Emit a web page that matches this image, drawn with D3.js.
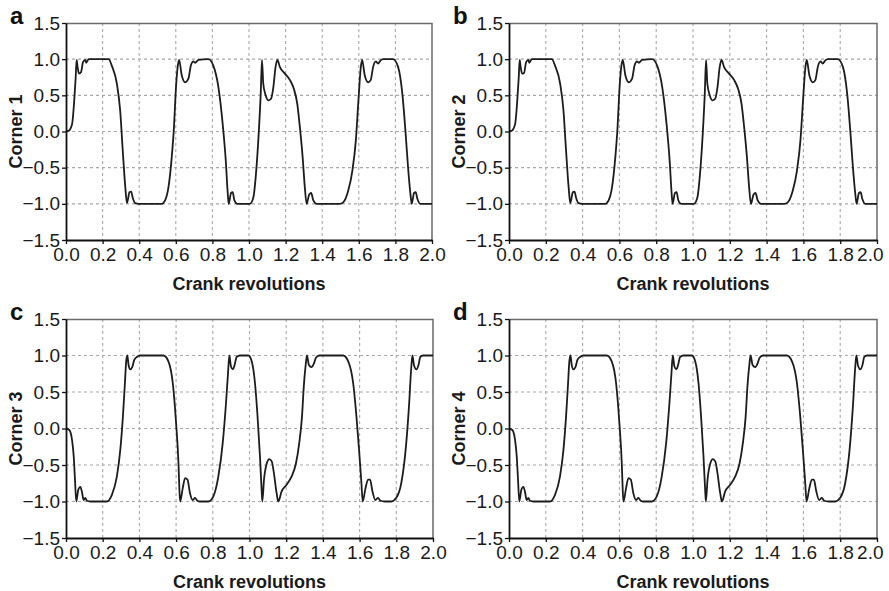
<!DOCTYPE html>
<html>
<head>
<meta charset="utf-8">
<script src="https://cdn.jsdelivr.net/npm/d3@7"></script>
<style>
  html, body { margin: 0; padding: 0; background: #fff; }
  svg { display: block; }
</style>
</head>
<body>
<svg id="chart" width="889" height="591"></svg>
<script>
// ---- data ----
const xTicks = [0.0, 0.2, 0.4, 0.6, 0.8, 1.0, 1.2, 1.4, 1.6, 1.8, 2.0];
const yTicks = [-1.5, -1.0, -0.5, 0.0, 0.5, 1.0, 1.5];
const panelLetters = ["a", "b", "c", "d"];
const panelLabels = ["Corner 1", "Corner 2", "Corner 3", "Corner 4"];
const xTitle = "Crank revolutions";

const corner1 = [[0,0],[0.015,0.01],[0.033,0.1],[0.045,0.43],[0.053,0.75],[0.058,0.99],[0.064,0.88],[0.071,0.8],[0.082,0.82],[0.093,0.96],[0.105,0.99],[0.11,0.95],[0.124,1.0],[0.233,1.0],[0.25,0.91],[0.278,0.66],[0.296,0.29],[0.31,-0.26],[0.324,-0.77],[0.333,-0.99],[0.347,-0.84],[0.356,-0.83],[0.365,-0.92],[0.378,-0.99],[0.396,-1.0],[0.524,-1.0],[0.542,-0.95],[0.56,-0.77],[0.578,-0.35],[0.59,0.06],[0.6,0.57],[0.61,0.89],[0.618,0.99],[0.633,0.77],[0.651,0.68],[0.669,0.73],[0.682,0.91],[0.696,0.97],[0.705,0.95],[0.724,0.99],[0.778,1.0],[0.805,0.91],[0.833,0.61],[0.856,0.11],[0.873,-0.4],[0.884,-0.86],[0.889,-1.0],[0.902,-0.85],[0.911,-0.84],[0.92,-0.95],[0.936,-1.0],[1.005,-1.0],[1.024,-0.91],[1.038,-0.59],[1.053,-0.03],[1.064,0.52],[1.071,0.99],[1.078,0.66],[1.091,0.5],[1.105,0.43],[1.12,0.45],[1.133,0.61],[1.145,0.89],[1.155,0.99],[1.169,0.89],[1.196,0.8],[1.224,0.71],[1.245,0.59],[1.264,0.38],[1.278,0.06],[1.293,-0.35],[1.305,-0.77],[1.315,-1.0],[1.329,-0.87],[1.34,-0.85],[1.351,-0.95],[1.369,-1.0],[1.496,-1.0],[1.515,-0.98],[1.542,-0.82],[1.565,-0.54],[1.584,-0.12],[1.598,0.43],[1.611,0.89],[1.618,0.99],[1.633,0.77],[1.651,0.68],[1.665,0.71],[1.678,0.89],[1.693,0.97],[1.705,0.94],[1.718,0.98],[1.733,1.0],[1.787,1.0],[1.815,0.89],[1.838,0.52],[1.856,-0.03],[1.869,-0.49],[1.882,-0.86],[1.889,-1.0],[1.902,-0.85],[1.911,-0.84],[1.92,-0.93],[1.936,-1.0],[2.0,-1.0]];

const corner2 = [[0,0],[0.015,0.01],[0.033,0.1],[0.045,0.43],[0.053,0.75],[0.058,0.99],[0.064,0.88],[0.071,0.8],[0.082,0.81],[0.093,0.96],[0.105,0.99],[0.11,0.95],[0.124,1.0],[0.233,1.0],[0.25,0.91],[0.278,0.66],[0.296,0.29],[0.31,-0.26],[0.324,-0.77],[0.333,-0.99],[0.347,-0.84],[0.356,-0.83],[0.365,-0.92],[0.378,-0.99],[0.396,-1.0],[0.524,-1.0],[0.542,-0.95],[0.56,-0.77],[0.578,-0.35],[0.59,0.06],[0.6,0.57],[0.61,0.89],[0.618,0.99],[0.633,0.77],[0.651,0.68],[0.669,0.73],[0.682,0.91],[0.696,0.97],[0.705,0.95],[0.724,0.99],[0.778,1.0],[0.805,0.91],[0.833,0.61],[0.856,0.11],[0.873,-0.4],[0.884,-0.86],[0.889,-1.0],[0.902,-0.85],[0.911,-0.84],[0.92,-0.95],[0.936,-1.0],[1.005,-1.0],[1.024,-0.91],[1.038,-0.59],[1.053,-0.03],[1.064,0.52],[1.071,0.99],[1.078,0.66],[1.091,0.5],[1.105,0.43],[1.12,0.45],[1.133,0.61],[1.145,0.89],[1.155,0.99],[1.169,0.89],[1.196,0.8],[1.224,0.71],[1.245,0.59],[1.264,0.38],[1.278,0.06],[1.293,-0.35],[1.305,-0.77],[1.315,-1.0],[1.329,-0.87],[1.34,-0.85],[1.351,-0.95],[1.369,-1.0],[1.496,-1.0],[1.515,-0.98],[1.542,-0.82],[1.565,-0.54],[1.584,-0.12],[1.598,0.43],[1.611,0.89],[1.618,0.99],[1.633,0.77],[1.651,0.68],[1.665,0.71],[1.678,0.89],[1.693,0.97],[1.705,0.94],[1.718,0.98],[1.733,1.0],[1.787,1.0],[1.815,0.89],[1.838,0.52],[1.856,-0.03],[1.869,-0.49],[1.882,-0.86],[1.889,-1.0],[1.902,-0.85],[1.911,-0.84],[1.92,-0.93],[1.936,-1.0],[2.0,-1.0]];

const corner3 = [[0,0],[0.018,-0.02],[0.033,-0.16],[0.042,-0.38],[0.049,-0.7],[0.056,-1.0],[0.067,-0.84],[0.078,-0.8],[0.087,-0.87],[0.096,-0.98],[0.105,-0.95],[0.114,-0.99],[0.132,-1.0],[0.223,-1.0],[0.25,-0.91],[0.277,-0.66],[0.296,-0.29],[0.31,0.16],[0.321,0.62],[0.328,0.92],[0.334,1.0],[0.341,0.87],[0.35,0.81],[0.361,0.84],[0.372,0.94],[0.386,0.98],[0.404,1.0],[0.531,1.0],[0.558,0.92],[0.582,0.62],[0.6,0.07],[0.613,-0.48],[0.618,-0.84],[0.622,-1.0],[0.636,-0.82],[0.649,-0.68],[0.662,-0.7],[0.676,-0.89],[0.691,-0.98],[0.703,-0.95],[0.716,-0.99],[0.73,-1.0],[0.776,-1.0],[0.803,-0.93],[0.83,-0.66],[0.854,-0.2],[0.872,0.35],[0.883,0.76],[0.89,1.0],[0.899,0.85],[0.91,0.81],[0.919,0.87],[0.93,0.98],[0.948,1.0],[0.994,1.0],[1.012,0.92],[1.03,0.62],[1.044,0.16],[1.057,-0.38],[1.066,-0.84],[1.07,-1.0],[1.079,-0.7],[1.094,-0.48],[1.108,-0.42],[1.121,-0.45],[1.133,-0.61],[1.148,-0.89],[1.157,-1.0],[1.175,-0.86],[1.202,-0.77],[1.229,-0.66],[1.253,-0.48],[1.271,-0.2],[1.286,0.16],[1.296,0.58],[1.307,0.89],[1.313,1.0],[1.324,0.87],[1.338,0.84],[1.351,0.89],[1.362,0.97],[1.38,1.0],[1.51,1.0],[1.538,0.92],[1.565,0.62],[1.583,0.16],[1.597,-0.29],[1.61,-0.75],[1.617,-1.0],[1.632,-0.82],[1.646,-0.7],[1.657,-0.7],[1.67,-0.86],[1.686,-0.98],[1.7,-0.95],[1.713,-0.99],[1.737,-1.0],[1.773,-1.0],[1.8,-0.95],[1.827,-0.75],[1.851,-0.29],[1.869,0.3],[1.882,0.85],[1.888,1.0],[1.897,0.86],[1.91,0.81],[1.921,0.87],[1.931,0.98],[1.946,1.0],[2.0,1.0]];

const corner4 = [[0,0],[0.018,-0.02],[0.033,-0.16],[0.042,-0.38],[0.049,-0.7],[0.056,-1.0],[0.067,-0.84],[0.078,-0.8],[0.087,-0.87],[0.096,-0.98],[0.105,-0.95],[0.114,-0.99],[0.132,-1.0],[0.223,-1.0],[0.25,-0.91],[0.277,-0.66],[0.296,-0.29],[0.31,0.16],[0.321,0.62],[0.328,0.92],[0.334,1.0],[0.341,0.87],[0.35,0.81],[0.361,0.84],[0.372,0.94],[0.386,0.98],[0.404,1.0],[0.531,1.0],[0.558,0.92],[0.582,0.62],[0.6,0.07],[0.613,-0.48],[0.618,-0.84],[0.622,-1.0],[0.636,-0.82],[0.649,-0.68],[0.662,-0.7],[0.676,-0.89],[0.691,-0.98],[0.703,-0.95],[0.716,-0.99],[0.73,-1.0],[0.776,-1.0],[0.803,-0.93],[0.83,-0.66],[0.854,-0.2],[0.872,0.35],[0.883,0.76],[0.89,1.0],[0.899,0.85],[0.91,0.81],[0.919,0.87],[0.93,0.98],[0.948,1.0],[0.994,1.0],[1.012,0.92],[1.03,0.62],[1.044,0.16],[1.057,-0.38],[1.066,-0.84],[1.07,-1.0],[1.079,-0.7],[1.094,-0.48],[1.108,-0.42],[1.121,-0.45],[1.133,-0.61],[1.148,-0.89],[1.157,-1.0],[1.175,-0.86],[1.202,-0.77],[1.229,-0.66],[1.253,-0.48],[1.271,-0.2],[1.286,0.16],[1.296,0.58],[1.307,0.89],[1.313,1.0],[1.324,0.87],[1.338,0.84],[1.351,0.89],[1.362,0.97],[1.38,1.0],[1.51,1.0],[1.538,0.92],[1.565,0.62],[1.583,0.16],[1.597,-0.29],[1.61,-0.75],[1.617,-1.0],[1.632,-0.82],[1.646,-0.7],[1.657,-0.7],[1.67,-0.86],[1.686,-0.98],[1.7,-0.95],[1.713,-0.99],[1.737,-1.0],[1.773,-1.0],[1.8,-0.95],[1.827,-0.75],[1.851,-0.29],[1.869,0.3],[1.882,0.85],[1.888,1.0],[1.897,0.86],[1.91,0.81],[1.921,0.87],[1.931,0.98],[1.946,1.0],[2.0,1.0]];

const series = [corner1, corner2, corner3, corner4];

// ---- layout ----
const layout = [
  { left: 66,  top: 23,  w: 366, h: 217, edge: false },
  { left: 509, top: 23,  w: 368, h: 217, edge: true },
  { left: 66,  top: 319, w: 367, h: 219, edge: false },
  { left: 509, top: 319, w: 368, h: 219, edge: true }
];

const svg = d3.select("#chart");
const FONT = "'Liberation Sans', Arial, Helvetica, sans-serif";
const fmt = d3.format(".1f");

layout.forEach((L, i) => {
  const g = svg.append("g").attr("transform", `translate(${L.left},${L.top})`);
  const x = d3.scaleLinear().domain([0, 2]).range([0, L.w]);
  const y = d3.scaleLinear().domain([-1.5, 1.5]).range([L.h, 0]);

  // grid
  g.append("g").selectAll("line.gx")
    .data(xTicks.filter(t => t > 0 && t < 2))
    .join("line")
    .attr("x1", d => x(d)).attr("x2", d => x(d))
    .attr("y1", 0).attr("y2", L.h)
    .attr("stroke", "#a8a8a8").attr("stroke-width", 1.1)
    .attr("stroke-dasharray", "3,3");
  g.append("g").selectAll("line.gy")
    .data(yTicks.filter(t => t > -1.5 && t < 1.5))
    .join("line")
    .attr("x1", 0).attr("x2", L.w)
    .attr("y1", d => y(d)).attr("y2", d => y(d))
    .attr("stroke", "#a8a8a8").attr("stroke-width", 1.1)
    .attr("stroke-dasharray", "3,3");

  // frame top/right
  g.append("path")
    .attr("d", `M0,0.5H${L.w}V${L.h}`)
    .attr("fill", "none").attr("stroke", "#6a6a6a").attr("stroke-width", 1.5);

  // curve
  const line = d3.line().x(d => x(d[0])).y(d => y(d[1])).curve(d3.curveMonotoneX);
  g.append("path")
    .datum(series[i])
    .attr("d", line)
    .attr("fill", "none").attr("stroke", "#1c1c1c").attr("stroke-width", 1.8)
    .attr("stroke-linejoin", "round");

  // axes
  const ax = g.append("g").attr("transform", `translate(0,${L.h})`)
    .call(d3.axisBottom(x).tickValues(xTicks).tickFormat(fmt).tickSize(4).tickSizeOuter(0).tickPadding(4));
  const ay = g.append("g")
    .call(d3.axisLeft(y).tickValues(yTicks).tickFormat(fmt).tickSize(4).tickSizeOuter(0).tickPadding(2));
  [ax, ay].forEach(a => {
    a.select(".domain").attr("stroke", "#111").attr("stroke-width", 1.8);
    a.selectAll(".tick line").attr("stroke", "#111").attr("stroke-width", 1.3);
    a.selectAll(".tick text").attr("font-family", FONT).attr("font-size", 19).attr("fill", "#1a1a1a");
  });
  if (L.edge) {
    // last label pulled inside the page, as in the reference
    ax.selectAll(".tick text").filter(d => d === 2.0)
      .attr("text-anchor", "end").attr("x", 6);
  }

  // axis titles
  g.append("text")
    .attr("x", L.w / 2).attr("y", L.h + 50)
    .attr("text-anchor", "middle")
    .attr("font-family", FONT).attr("font-size", 18).attr("font-weight", "bold").attr("fill", "#1a1a1a")
    .text(xTitle);
  g.append("text")
    .attr("transform", `translate(${-44},${L.h / 2}) rotate(-90)`)
    .attr("text-anchor", "middle")
    .attr("font-family", FONT).attr("font-size", 18).attr("font-weight", "bold").attr("fill", "#1a1a1a")
    .text(panelLabels[i]);

  // panel letter
  g.append("text")
    .attr("x", -56).attr("y", 1)
    .attr("font-family", FONT).attr("font-size", 24).attr("font-weight", "bold").attr("fill", "#111")
    .text(panelLetters[i]);
});
</script>
</body>
</html>
